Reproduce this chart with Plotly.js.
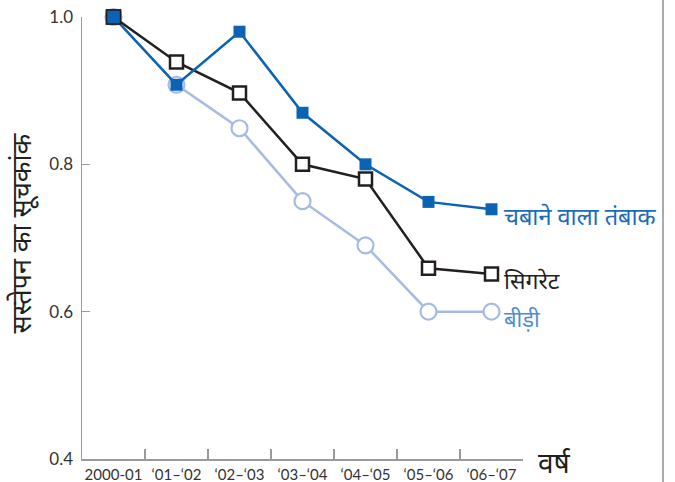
<!DOCTYPE html>
<html>
<head>
<meta charset="utf-8">
<script src="https://cdn.plot.ly/plotly-3.0.1.min.js"></script>
<style>html,body{margin:0;padding:0;background:#fff;}#chart{width:675px;height:482px;}</style>
</head>
<body>
<div id="chart"></div>
<script>
const years = ["2000-01", "‘01–‘02", "‘02–‘03", "‘03–‘04", "‘04–‘05", "‘05–‘06", "‘06–‘07"];
const chewingTobacco = [1.0, 0.908, 0.98, 0.87, 0.80, 0.749, 0.739];
const cigarettes = [1.0, 0.939, 0.897, 0.80, 0.78, 0.659, 0.651];
const bidis = [1.0, 0.908, 0.849, 0.75, 0.69, 0.60, 0.60];
const seriesNames = ["चबाने वाला तंबाक", "सिगरेट", "बीड़ी"];
const yTicks = [0.4, 0.6, 0.8, 1.0];
const yTickText = ["0.4", "0.6", "0.8", "1.0"];

const blue = "#0b63b4", black = "#231f20", light = "#a6bbe2";

const traces = [
  {x: years, y: bidis, name: seriesNames[2], type: "scatter", mode: "lines+markers", cliponaxis: false,
   line: {color: light, width: 2.5},
   marker: {symbol: "circle", size: 16, color: "#fff", line: {color: light, width: 2.2}}},
  {x: years, y: cigarettes, name: seriesNames[1], type: "scatter", mode: "lines+markers", cliponaxis: false,
   line: {color: black, width: 2.5},
   marker: {symbol: "square", size: 13, color: "#fff", line: {color: black, width: 2.5}}},
  {x: years, y: chewingTobacco, name: seriesNames[0], type: "scatter", mode: "lines+markers", cliponaxis: false,
   line: {color: blue, width: 2.5},
   marker: {symbol: "square", size: 12, color: blue, line: {color: blue, width: 0}}}
];
traces.push({x: [years[0]], y: [chewingTobacco[0]], type: "scatter", mode: "markers", cliponaxis: false, showlegend: false,
  marker: {symbol: "square", size: 14, color: blue, line: {color: black, width: 1.5}}});

const layout = {
  width: 675, height: 482,
  margin: {l: 82, r: 152, t: 17, b: 23},
  paper_bgcolor: "#fff", plot_bgcolor: "#fff",
  showlegend: false,
  font: {family: "Lato, 'Noto Sans', sans-serif", color: "#333"},
  xaxis: {type: "category", range: [-0.5, 6.5], showgrid: false, zeroline: false,
    showline: true, linecolor: "#9a9a9a", linewidth: 1.5,
    ticks: "inside", tickson: "boundaries", ticklen: 10, tickcolor: "#9a9a9a", tickwidth: 1.2,
    tickangle: 0, automargin: false, ticklabelstandoff: 1,
    tickfont: {size: 15, color: "#333"}},
  yaxis: {range: [0.4, 1.0], showgrid: false, zeroline: false,
    showline: true, linecolor: "#9a9a9a", linewidth: 1.5,
    ticks: "inside", ticklen: 8, tickcolor: "#9a9a9a", tickwidth: 1.2,
    tickvals: yTicks, ticktext: yTickText, ticklabelstandoff: 4,
    tickfont: {size: 17, color: "#333"}},
  shapes: [
    {type: "line", xref: "paper", yref: "paper", x0: 1.3175, x1: 1.3175, y0: -0.06, y1: 1.05,
     line: {color: "#aaaaaa", width: 2}}
  ],
  annotations: [
    {xref: "x", yref: "y", x: 6, y: chewingTobacco[6], showarrow: false, xshift: 10, yshift: -7,
     text: seriesNames[0], xanchor: "left", yanchor: "middle", font: {size: 23.5, color: "#1a6bb8"}},
    {xref: "x", yref: "y", x: 6, y: cigarettes[6], showarrow: false, xshift: 10, yshift: -6,
     text: seriesNames[1], xanchor: "left", yanchor: "middle", font: {size: 23, color: black}},
    {xref: "x", yref: "y", x: 6, y: bidis[6], showarrow: false, xshift: 10, yshift: -7,
     text: seriesNames[2], xanchor: "left", yanchor: "middle", font: {size: 22, color: "#4a8ed2"}},
    {xref: "paper", yref: "paper", x: 1.03, y: -0.05, showarrow: false, xanchor: "left", yanchor: "bottom",
     text: "वर्ष", font: {size: 28, color: black}},
    {xref: "paper", yref: "paper", x: -0.136, y: 0.51, showarrow: false, textangle: -90, xanchor: "center", yanchor: "middle",
     text: "सस्तेपन का सूचकांक", font: {size: 27, color: black}}
  ]
};
Plotly.newPlot("chart", traces, layout, {displayModeBar: false, staticPlot: true});
</script>
</body>
</html>
